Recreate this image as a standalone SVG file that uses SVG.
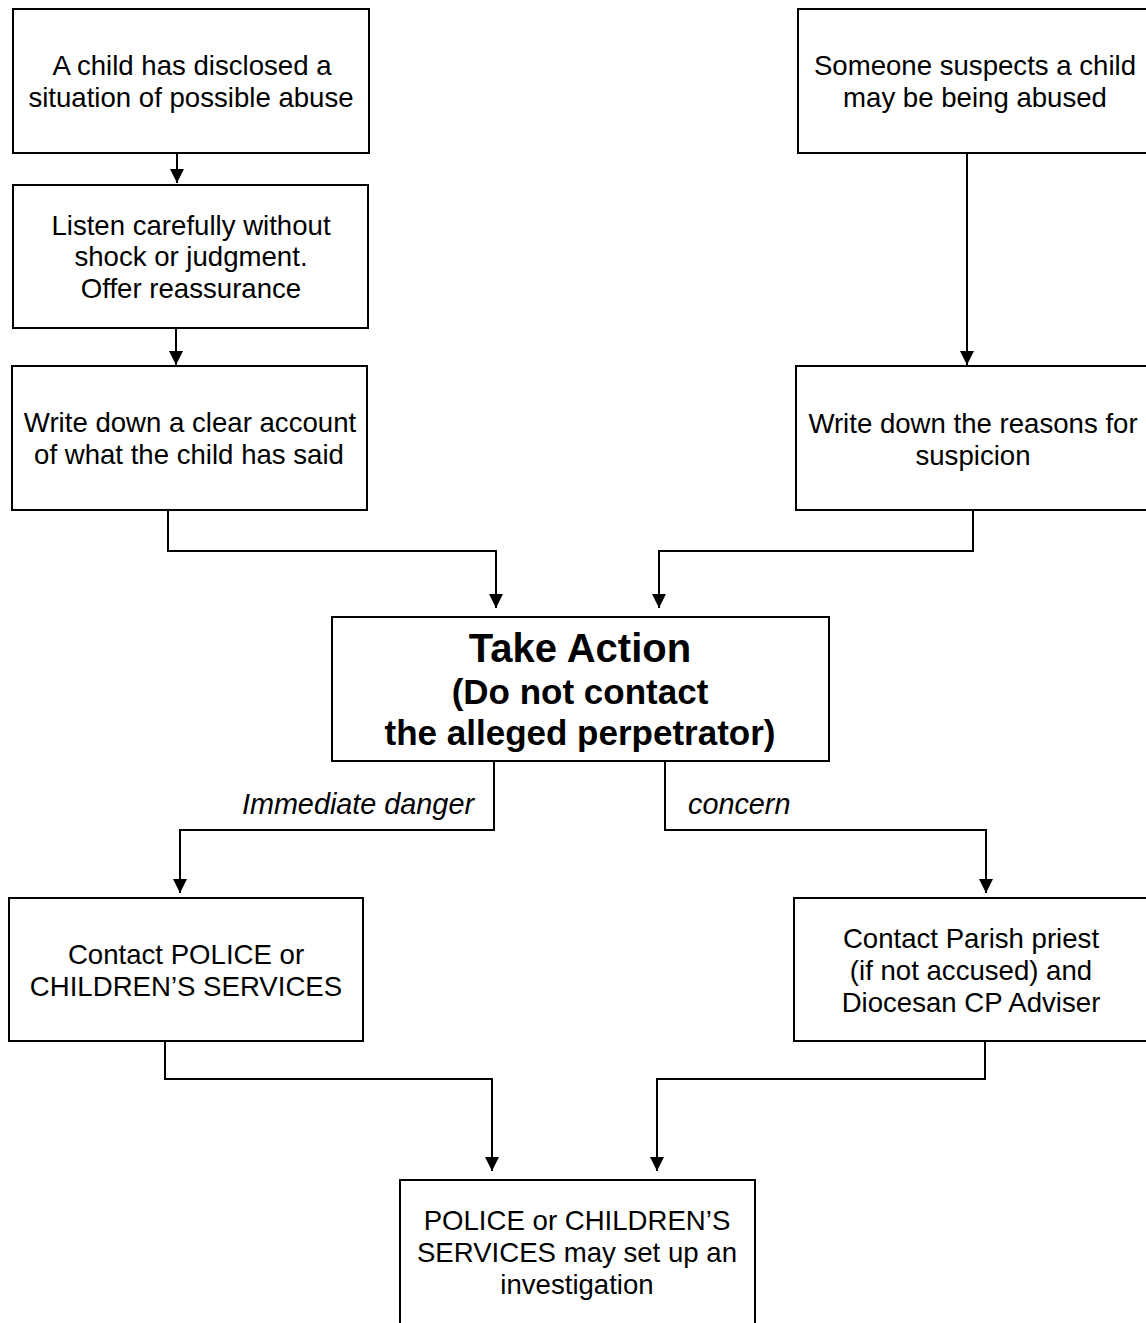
<svg xmlns="http://www.w3.org/2000/svg" width="1146" height="1323" viewBox="0 0 1146 1323">
<style>
.box{fill:#fff;stroke:#000;stroke-width:2}
.t{font-family:"Liberation Sans",Arial,sans-serif;font-size:27.6px;fill:#000;text-anchor:middle}
.b{font-family:"Liberation Sans",Arial,sans-serif;font-weight:bold;fill:#000;text-anchor:middle}
.lbl{font-family:"Liberation Sans",Arial,sans-serif;font-size:28.8px;font-style:italic;fill:#000}
.c{fill:none;stroke:#000;stroke-width:2}
</style>
<defs>
<marker id="ah" viewBox="0 0 14 14" refX="14" refY="7" markerWidth="14" markerHeight="14" markerUnits="userSpaceOnUse" orient="auto">
<path d="M0,0 L14,7 L0,14 Z" fill="#000"/>
</marker>
</defs>
<rect width="1146" height="1323" fill="#fff"/>
<g id="connectors">
<path class="c" d="M177,153 V183" marker-end="url(#ah)"/>
<path class="c" d="M176,328 V365" marker-end="url(#ah)"/>
<path class="c" d="M168,510 V551 H496 V608" marker-end="url(#ah)"/>
<path class="c" d="M967,153 V365" marker-end="url(#ah)"/>
<path class="c" d="M973,510 V551 H659 V608" marker-end="url(#ah)"/>
<path class="c" d="M494,761 V830 H180 V893" marker-end="url(#ah)"/>
<path class="c" d="M665,761 V830 H986 V893" marker-end="url(#ah)"/>
<path class="c" d="M165,1041 V1079 H492 V1171" marker-end="url(#ah)"/>
<path class="c" d="M985,1041 V1079 H657 V1171" marker-end="url(#ah)"/>
<text class="lbl" x="474" y="814" text-anchor="end">Immediate danger</text>
<text class="lbl" x="688" y="814">concern</text>
</g>
<g id="n1">
<rect class="box" x="13" y="9" width="356" height="144"/>
<text class="t" x="192" y="75">A child has disclosed a</text>
<text class="t" x="191" y="107">situation of possible abuse</text>
</g>
<g id="n2">
<rect class="box" x="13" y="185" width="355" height="143"/>
<text class="t" x="191" y="235">Listen carefully without</text>
<text class="t" x="191" y="266">shock or judgment.</text>
<text class="t" x="191" y="298">Offer reassurance</text>
</g>
<g id="n3">
<rect class="box" x="12" y="366" width="355" height="144"/>
<text class="t" x="190" y="432">Write down a clear account</text>
<text class="t" x="189" y="464">of what the child has said</text>
</g>
<g id="n4">
<rect class="box" x="798" y="9" width="360" height="144"/>
<text class="t" x="975" y="75">Someone suspects a child</text>
<text class="t" x="975" y="107">may be being abused</text>
</g>
<g id="n5">
<rect class="box" x="796" y="366" width="362" height="144"/>
<text class="t" x="973" y="433">Write down the reasons for</text>
<text class="t" x="973" y="465">suspicion</text>
</g>
<g id="n6">
<rect class="box" x="332" y="617" width="497" height="144"/>
<text class="b" x="580" y="662" font-size="40">Take Action</text>
<text class="b" x="580" y="704" font-size="35">(Do not contact</text>
<text class="b" x="580" y="745" font-size="35">the alleged perpetrator)</text>
</g>
<g id="n7">
<rect class="box" x="9" y="898" width="354" height="143"/>
<text class="t" x="186" y="964">Contact POLICE or</text>
<text class="t" x="186" y="996">CHILDREN’S SERVICES</text>
</g>
<g id="n8">
<rect class="box" x="794" y="898" width="364" height="143"/>
<text class="t" x="971" y="948">Contact Parish priest</text>
<text class="t" x="971" y="980">(if not accused) and</text>
<text class="t" x="971" y="1012">Diocesan CP Adviser</text>
</g>
<g id="n9">
<rect class="box" x="400" y="1180" width="355" height="160"/>
<text class="t" x="577" y="1230">POLICE or CHILDREN’S</text>
<text class="t" x="577" y="1262">SERVICES may set up an</text>
<text class="t" x="577" y="1294">investigation</text>
</g>
</svg>
